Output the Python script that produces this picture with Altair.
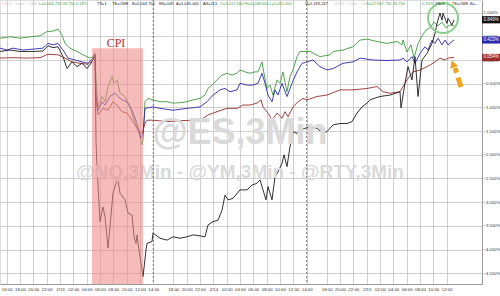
import altair as alt
import pandas as pd

# x unit: 9-minute steps since chart start; y: % change
green_t = [0, 10, 20, 30, 40, 47, 53, 58, 62, 65, 70, 77, 83, 90, 93, 95, 96, 98, 102, 105, 108, 112, 114, 117, 120, 125, 130, 133, 138, 142, 143, 145, 148, 153, 160, 167, 173, 180, 187, 193, 200, 205, 208, 212, 217, 222, 227, 232, 237, 240, 245, 250, 255, 258, 262, 264, 267, 270, 273, 277, 280, 283, 287, 290, 293, 297, 300, 305, 310, 320, 330, 333, 343, 353, 360, 367, 377, 387, 397, 402, 403, 407, 411, 414, 418, 422, 426, 430, 434, 438, 442, 446, 450, 454]
green_v = [0.46, 0.49, 0.46, 0.49, 0.51, 0.60, 0.61, 0.65, 0.53, 0.35, 0.25, 0.18, 0.11, 0.04, 0.07, 0.15, -0.42, -0.99, -0.77, -0.88, -0.56, -0.35, -0.49, -0.42, -0.70, -0.77, -0.99, -1.20, -1.48, -1.79, -1.69, -0.88, -0.81, -0.84, -0.88, -0.88, -0.91, -0.90, -0.88, -0.84, -0.81, -0.74, -0.60, -0.53, -0.42, -0.32, -0.28, -0.32, -0.28, -0.21, -0.25, -0.28, -0.25, -0.25, -0.04, -0.28, -0.60, -0.53, -0.74, -0.42, -0.49, -0.25, -0.67, -0.35, -0.21, 0.07, 0.18, 0.18, 0.18, 0.07, 0.11, 0.18, 0.21, 0.28, 0.42, 0.44, 0.39, 0.35, 0.39, 0.32, 0.42, 0.17, 0.32, 0.04, 0.34, 0.51, 0.63, 0.68, 0.80, 0.72, 0.80, 0.68, 0.74, 0.72]

blue_t = [0, 7, 13, 23, 33, 43, 48, 53, 58, 63, 68, 75, 82, 88, 93, 95, 96, 98, 102, 105, 110, 115, 118, 122, 127, 132, 137, 141, 143, 145, 153, 160, 173, 187, 200, 207, 213, 220, 225, 230, 237, 240, 247, 253, 258, 262, 265, 268, 272, 275, 278, 282, 287, 292, 297, 302, 307, 313, 320, 327, 333, 343, 353, 360, 373, 387, 400, 403, 407, 412, 415, 420, 425, 428, 432, 435, 438, 442, 445, 448, 454]
blue_v = [0.25, 0.21, 0.25, 0.21, 0.23, 0.25, 0.35, 0.32, 0.35, 0.21, 0.04, 0.00, -0.04, -0.07, 0.04, 0.11, -0.74, -1.06, -0.88, -0.95, -0.77, -0.70, -0.77, -0.84, -0.88, -1.06, -1.34, -1.65, -1.55, -1.02, -0.99, -1.02, -1.06, -1.02, -0.99, -0.88, -0.74, -0.63, -0.60, -0.67, -0.63, -0.49, -0.53, -0.53, -0.49, -0.28, -0.49, -0.74, -0.88, -0.63, -0.74, -0.49, -0.77, -0.49, -0.25, -0.07, -0.04, 0.00, -0.14, -0.21, -0.18, -0.07, -0.04, 0.04, 0.00, -0.01, 0.00, 0.04, -0.04, 0.07, -0.07, 0.14, 0.28, 0.21, 0.42, 0.35, 0.46, 0.32, 0.42, 0.32, 0.423]

red_t = [0, 13, 27, 40, 48, 58, 65, 72, 80, 88, 93, 95, 96, 98, 103, 108, 113, 117, 122, 127, 132, 138, 142, 143, 145, 147, 153, 167, 180, 193, 203, 208, 217, 227, 237, 243, 250, 257, 261, 263, 268, 272, 277, 282, 285, 288, 293, 298, 303, 307, 317, 327, 340, 353, 367, 377, 383, 390, 400, 407, 413, 420, 427, 433, 440, 445, 448, 454]
red_v = [0.04, 0.05, 0.04, 0.05, 0.12, 0.11, 0.04, -0.04, -0.07, -0.09, 0.00, 0.06, -0.84, -1.16, -1.02, -1.06, -0.88, -0.95, -1.09, -1.12, -1.27, -1.48, -1.55, -1.48, -1.33, -1.27, -1.27, -1.30, -1.28, -1.27, -1.23, -1.16, -1.09, -1.02, -1.02, -0.95, -0.95, -0.91, -0.84, -0.99, -1.12, -1.27, -1.12, -1.23, -1.09, -1.20, -0.99, -0.88, -0.81, -0.84, -0.77, -0.74, -0.63, -0.63, -0.60, -0.56, -0.67, -0.70, -0.67, -0.42, -0.25, -0.21, -0.14, -0.07, 0.04, 0.00, 0.04, 0.054]

black_t = [0, 10, 20, 33, 43, 48, 53, 58, 63, 67, 72, 77, 82, 87, 92, 94, 95, 96, 97, 100, 103, 105, 108, 113, 116, 118, 120, 125, 128, 132, 134, 136, 137, 139, 142, 143, 146, 147, 152, 153, 160, 167, 173, 180, 187, 193, 200, 205, 208, 213, 218, 222, 225, 228, 233, 240, 247, 252, 257, 260, 263, 266, 268, 272, 275, 278, 282, 284, 287, 290, 293, 297, 300, 305, 310, 317, 323, 327, 333, 340, 347, 352, 357, 362, 367, 370, 380, 390, 400, 401, 405, 408, 412, 415, 418, 422, 427, 432, 435, 437, 440, 442, 443, 447, 448, 452, 454]
black_v = [0.18, 0.21, 0.18, 0.18, 0.19, 0.30, 0.26, 0.28, 0.07, -0.18, -0.04, -0.14, -0.07, -0.18, -0.04, 0.07, 0.11, -1.69, -2.25, -3.41, -3.10, -3.31, -3.97, -2.81, -2.60, -2.53, -2.81, -2.95, -3.23, -3.27, -3.73, -3.87, -3.69, -4.01, -4.43, -4.57, -4.01, -3.87, -3.83, -3.65, -3.76, -3.80, -3.73, -3.76, -3.73, -3.69, -3.71, -3.73, -3.48, -3.41, -3.38, -3.17, -2.85, -2.95, -2.92, -2.74, -2.74, -2.64, -2.60, -2.53, -2.74, -2.95, -2.67, -2.95, -2.46, -2.36, -2.18, -2.00, -2.25, -1.83, -1.51, -1.55, -1.48, -1.44, -1.41, -1.44, -1.55, -1.51, -1.37, -1.34, -1.34, -1.30, -1.12, -0.99, -0.91, -0.84, -0.77, -0.74, -0.67, -1.01, -0.49, -0.14, -0.42, 0.07, -0.77, 0.00, 0.14, 0.35, 0.56, 0.77, 0.99, 0.84, 0.99, 0.77, 0.88, 0.74, 0.849]

series_names = ["green", "blue", "red", "black"]
series_colors = ["#3d9a3d", "#2a2aa8", "#9a2e2e", "#1a1a1a"]

# x-axis ticks (positions in 9-minute steps) and their labels
tick_pos = [6.7, 20, 33.3, 46.7, 60, 73.3, 86.7, 100, 113.3, 126.7, 140, 153.3,
            173.3, 186.7, 200, 213.3, 226.7, 240, 253.3, 266.7, 280, 293.3, 306.7,
            326.7, 340, 353.3, 366.7, 380, 393.3, 406.7, 420, 433.3, 446.7]
tick_lbl = ["16:00", "18:00", "20:00", "22:00", "2/13", "02:00", "04:00", "06:00", "08:00", "10:00", "12:00", "14:00",
            "18:00", "20:00", "22:00", "2/14", "02:00", "04:00", "06:00", "08:00", "10:00", "12:00", "14:00",
            "18:00", "20:00", "22:00", "2/15", "02:00", "04:00", "06:00", "08:00", "10:00", "12:00"]
session_breaks = [153.3, 306.7]
y_ticks = [1.0, 0.5, 0.0, -0.5, -1.0, -1.5, -2.0, -2.5, -3.0, -3.5, -4.0, -4.5]

cpi_start, cpi_end, cpi_top = 92, 143, 0.25
last_vals = [0.849, 0.423, 0.054]
last_txt = ["0.849%", "0.423%", "0.054%"]
last_fill = ["#111111", "#2a2aa8", "#9a2e2e"]

header_text = ["@ES - 3 min - CME", "L=5,044.750 26.750 0.53%", "TS=1", "TE=CME", "B=5,044.750",
               "BS=109", "A=5,045.000", "AS=113", "O=5,017.500 HI=5,048.500 L=5,011.000",
               "V=1,183,247", "@NQ - 3 min - CME", "L=17,907.750 26.750", "0.15%", "TS=1", "TE=CME", "B=..."]
header_x = [2, 39, 97, 112, 132, 159, 176, 203, 220, 305, 334, 367, 422, 435, 452, 470]
header_col = ["#c8c8c8", "#3d9a3d", "#222", "#222", "#222", "#222", "#222", "#222", "#3d9a3d",
              "#222", "#c8c8c8", "#3d9a3d", "#3d9a3d", "#222", "#222", "#222"]

W, H = 482, 284
Y_MAX = 60 / 47.4
Y_MIN = Y_MAX - H / 47.4

rows = []
for name, ts, vs in [("green", green_t, green_v), ("blue", blue_t, blue_v),
                     ("red", red_t, red_v), ("black", black_t, black_v)]:
    for t, v in zip(ts, vs):
        rows.append({"s": name, "t": t, "v": v})
df = pd.DataFrame(rows)

xscale = alt.Scale(domain=[0, W], nice=False, zero=False)
yscale = alt.Scale(domain=[Y_MIN, Y_MAX], nice=False, zero=False)

label_expr = "[" + ",".join(f"'{l}'" for l in tick_lbl) + "][indexof([" + ",".join(str(p) for p in tick_pos) + "], datum.value)]"

xaxis = alt.Axis(values=tick_pos, tickCount=60, labelExpr=label_expr, title=None, ticks=False, grid=True,
                 gridColor="#b0b0b0", gridWidth=0.6, domainColor="#999", labelFontSize=4.4,
                 labelColor="#333", labelPadding=3, labelOverlap=False, labelFlush=False,
                 labelBound=False, labelFont="Liberation Sans")
yaxis = alt.Axis(values=y_ticks, tickCount=30, orient="right", labelExpr="format(datum.value, '.3f') + '%'",
                 title=None, ticks=False, grid=True, gridColor="#b0b0b0", gridWidth=0.6,
                 domainColor="#999", labelFontSize=4.3, labelColor="#333", labelPadding=1,
                 labelOverlap=False, labelFont="Liberation Sans")

one = pd.DataFrame({"a": [0]})

lines = alt.Chart(df).mark_line(strokeWidth=0.9).encode(
    x=alt.X("t:Q", scale=xscale, axis=xaxis),
    y=alt.Y("v:Q", scale=yscale, axis=yaxis),
    color=alt.Color("s:N", scale=alt.Scale(domain=series_names, range=series_colors), legend=None),
    detail="s:N",
)

wm1 = alt.Chart(one).mark_text(text="@ES,3Min", fontSize=36, fontWeight="bold", font="Liberation Sans",
                               color="#dadada", align="center", baseline="middle").encode(
    x=alt.value(240), y=alt.value(133))
wm2 = alt.Chart(one).mark_text(text="@NQ,3Min - @YM,3Min - @RTY,3Min", fontSize=19, fontWeight="bold",
                               font="Liberation Sans", color="#dadada", align="center",
                               baseline="middle").encode(x=alt.value(240), y=alt.value(172))

shade_df = pd.DataFrame({"x1": [cpi_start], "x2": [cpi_end], "y1": [cpi_top], "y2": [Y_MIN]})
shade = alt.Chart(shade_df).mark_rect(color="#f08a8a", opacity=0.58).encode(
    x=alt.X("x1:Q", scale=xscale), x2="x2:Q",
    y=alt.Y("y1:Q", scale=yscale), y2="y2:Q")

cpi_txt = alt.Chart(one).mark_text(text="CPI", fontSize=12, font="Liberation Serif", color="#c0282a",
                                   align="center", baseline="middle").encode(
    x=alt.value(116), y=alt.value(43))

brk = alt.Chart(pd.DataFrame({"t": session_breaks})).mark_rule(color="#555", strokeDash=[2, 2],
                                                                 strokeWidth=0.8).encode(
    x=alt.X("t:Q", scale=xscale))

circle = alt.Chart(one).mark_point(shape="circle", size=900, filled=False, color="#86cf86",
                                   strokeWidth=2, opacity=1).encode(x=alt.value(443), y=alt.value(18))
arrow = alt.Chart(one).mark_rule(color="#f2a41f", strokeWidth=5, strokeDash=[10, 5]).encode(
    x=alt.value(461), y=alt.value(87), x2=alt.value(455), y2=alt.value(68))
arrow_head = alt.Chart(one).mark_point(shape="triangle-up", size=70, filled=True, color="#f2a41f",
                                       opacity=1, angle=340).encode(x=alt.value(453), y=alt.value(64))

hdr_layers = []
for txt, hx, hc in zip(header_text, header_x, header_col):
    hdr_layers.append(alt.Chart(one).mark_text(text=txt, fontSize=4.0, font="Liberation Sans",
                                               color=hc, align="left", baseline="middle").encode(
        x=alt.value(hx), y=alt.value(4)))

tags_df = pd.DataFrame({"v": last_vals, "txt": last_txt, "fill": last_fill})
tag_box = alt.Chart(tags_df).mark_rect(yOffset=-3.6, y2Offset=3.6).encode(
    x=alt.value(482), x2=alt.value(500), y=alt.Y("v:Q", scale=yscale), y2="v:Q",
    color=alt.Color("fill:N", scale=None))
tag_txt = alt.Chart(tags_df).mark_text(fontSize=4.5, font="Liberation Sans", color="white",
                                       align="center", baseline="middle").encode(
    x=alt.value(491), y=alt.Y("v:Q", scale=yscale), text="txt:N")

chart = alt.layer(lines, wm1, wm2, shade, cpi_txt, brk, circle, arrow, arrow_head, *hdr_layers,
                  tag_box, tag_txt).properties(
    width=W, height=H, autosize=alt.AutoSizeParams(type="none"),
    padding={"left": 0, "top": 0, "right": 18, "bottom": 12},
).configure_view(stroke=None).configure(background="white")

chart.save("out.html", embed_options={"renderer": "svg", "actions": False})
